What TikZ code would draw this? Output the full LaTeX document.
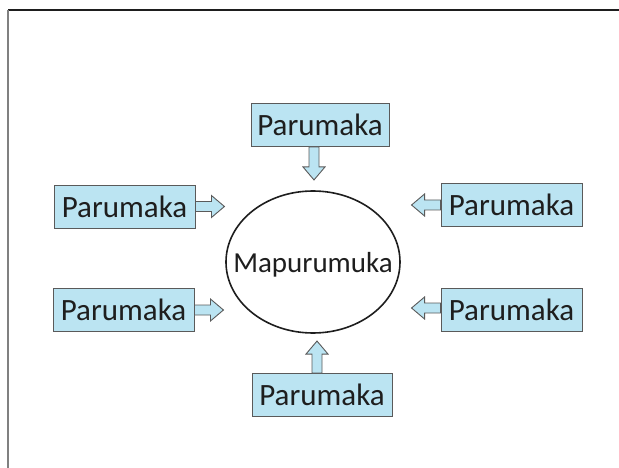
\documentclass[tikz,border=0pt]{standalone}
\usepackage{fontspec}
\setmainfont{Carlito}
\usetikzlibrary{calc,shapes.geometric}
\definecolor{boxfill}{RGB}{187,228,242}
\definecolor{boxline}{RGB}{90,90,90}
\definecolor{inkc}{RGB}{30,30,30}
\newcommand\blockarrow[3]{%
  \draw[arrowshape, shift={(#1)}, rotate=#3]
    (0,-5) -- (#2-13,-5) -- (#2-13,-11) -- (#2,0) -- (#2-13,11) -- (#2-13,5) -- (0,5) -- cycle;}
\begin{document}
\begin{tikzpicture}[x=1pt, y=-1pt,
  pbox/.style={draw=boxline, fill=boxfill, line width=0.9pt, minimum width=141pt,
    minimum height=43pt, inner sep=0pt, text=inkc, font=\fontsize{31}{37}\selectfont},
  arrowshape/.style={draw=boxline, fill=boxfill, line width=0.9pt, line join=miter},
  centre/.style={ellipse, draw=inkc, line width=1.6pt, minimum width=174pt,
    minimum height=142pt, inner sep=0pt},
  centretext/.style={text=inkc, inner sep=0pt, anchor=base, font=\fontsize{29}{35}\selectfont}]
\useasboundingbox (0,0) rectangle (619,468);
% frame
\draw[inkc, line width=1.3pt] (8,10) coordinate (fc) -- (619,10);
\draw[gray, line width=1.5pt] (fc) -- (8,468);
% nodes
\node[centre] (m) at (313,262) {};
\node[centretext] (mt) at ([yshift=-10pt]m.center) {Mapurumuka};
\node[pbox, minimum width=138pt] (t) at (320,125) {Parumaka};
\node[pbox] (ul) at (124.5,206.5) {Parumaka};
\node[pbox] (ll) at (123.5,310) {Parumaka};
\node[pbox] (ur) at (511.5,205) {Parumaka};
\node[pbox] (lr) at (511.5,309.5) {Parumaka};
\node[pbox, minimum width=140pt] (b) at (322,395) {Parumaka};
% arrows
\blockarrow{[xshift=-6pt]t.south}{33}{-90}
\blockarrow{ul.east}{29}{0}
\blockarrow{ll.east}{29}{0}
\blockarrow{ur.west}{29}{180}
\blockarrow{[yshift=1.5pt]lr.west}{29}{180}
\blockarrow{[xshift=-5pt]b.north}{32}{90}
\end{tikzpicture}
\end{document}
